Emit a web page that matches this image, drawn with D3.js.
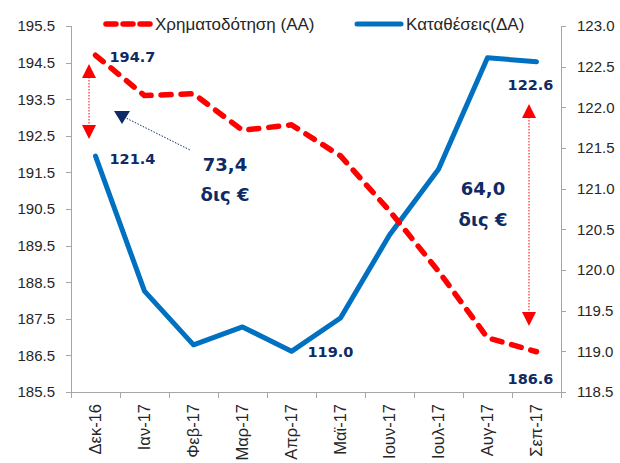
<!DOCTYPE html>
<html lang="el">
<head>
<meta charset="UTF-8">
<title>Χρηματοδότηση - Καταθέσεις</title>
<script src="https://cdn.jsdelivr.net/npm/d3@7"></script>
<style>
    body { margin: 0; background: #fff; }
    .axis path, .axis line { fill: none; stroke: #a6a6a6; shape-rendering: crispEdges; }
    .axis text { font-family: "Liberation Sans", sans-serif; font-size: 15px; fill: #262626; }
    .xaxis text { font-size: 16.5px; }
    .lbl { font-family: "DejaVu Sans", sans-serif; font-weight: bold; fill: #0f2a64; }
    .leg { font-family: "Liberation Sans", sans-serif; font-size: 17px; fill: #262626; }
</style>
</head>
<body>
<script>
    const width = 620
    const height = 463

    // data
    const months = ['Δεκ-16', 'Ιαν-17', 'Φεβ-17', 'Μαρ-17', 'Απρ-17', 'Μαϊ-17', 'Ιουν-17', 'Ιουλ-17', 'Αυγ-17', 'Σεπ-17']
    const financing = [194.7, 193.6, 193.65, 192.65, 192.8, 191.95, 190.45, 188.8, 186.98, 186.6]
    const deposits = [121.4, 119.74, 119.08, 119.3, 119.0, 119.41, 120.43, 121.24, 122.61, 122.56]
    const leftTicks = [185.5, 186.5, 187.5, 188.5, 189.5, 190.5, 191.5, 192.5, 193.5, 194.5, 195.5]
    const rightTicks = [118.5, 119.0, 119.5, 120.0, 120.5, 121.0, 121.5, 122.0, 122.5, 123.0]

    const red = '#ff0000'
    const blue = '#0070c0'
    const navy = '#0f2a64'

    const svg = d3.select('body').append('svg').attr('width', width).attr('height', height)

    const x = d3.scaleBand().domain(months).range([71, 561])
    const yL = d3.scaleLinear().domain([185.5, 195.5]).range([392, 26])
    const yR = d3.scaleLinear().domain([118.5, 123]).range([392, 26])
    const cx = (d) => x(d) + x.bandwidth() / 2

    // axes
    svg.append('g').attr('class', 'axis')
        .attr('transform', 'translate(71,0)')
        .call(d3.axisLeft(yL).tickValues(leftTicks).tickFormat(d3.format('.1f')).tickSizeOuter(0).tickSize(5).tickPadding(11))

    svg.append('g').attr('class', 'axis')
        .attr('transform', 'translate(561,0)')
        .call(d3.axisRight(yR).tickValues(rightTicks).tickFormat(d3.format('.1f')).tickSizeOuter(0).tickSize(5).tickPadding(11))

    const xAxis = svg.append('g').attr('class', 'axis xaxis')
        .attr('transform', 'translate(0,392)')
        .call(d3.axisBottom(x).tickSize(0).tickSizeOuter(0))
    xAxis.selectAll('.tick text')
        .attr('transform', 'rotate(-90)')
        .attr('text-anchor', 'end')
        .attr('x', -12)
        .attr('y', 0)
        .attr('dy', '0.35em')
    // tick marks between categories
    xAxis.selectAll('line.sep')
        .data(months.concat(['end']))
        .enter()
        .append('line')
        .attr('class', 'sep')
        .attr('x1', (d, i) => 71 + i * x.step())
        .attr('x2', (d, i) => 71 + i * x.step())
        .attr('y1', 0)
        .attr('y2', 6)

    // lines
    const lineL = d3.line().x((d, i) => cx(months[i])).y((d) => yL(d))
    const lineR = d3.line().x((d, i) => cx(months[i])).y((d) => yR(d))

    svg.append('path')
        .datum(deposits)
        .attr('d', lineR)
        .attr('fill', 'none')
        .attr('stroke', blue)
        .attr('stroke-width', 5)
        .attr('stroke-linejoin', 'round')
        .attr('stroke-linecap', 'round')

    svg.append('path')
        .datum(financing)
        .attr('d', lineL)
        .attr('fill', 'none')
        .attr('stroke', red)
        .attr('stroke-width', 5.5)
        .attr('stroke-dasharray', '10 10')
        .attr('stroke-linecap', 'round')
        .attr('stroke-linejoin', 'round')

    // data labels
    const n = months.length - 1
    const labels = [
        { t: financing[0].toFixed(1), x: cx(months[0]) + 14, y: yL(financing[0]) + 7, a: 'start' },
        { t: deposits[0].toFixed(1), x: cx(months[0]) + 14, y: yR(deposits[0]) + 8, a: 'start' },
        { t: deposits[4].toFixed(1), x: cx(months[4]) + 16, y: yR(deposits[4]) + 6, a: 'start' },
        { t: deposits[n].toFixed(1), x: cx(months[n]) - 6, y: yR(deposits[n]) + 28, a: 'middle' },
        { t: financing[n].toFixed(1), x: cx(months[n]) - 6, y: yL(financing[n]) + 32, a: 'middle' }
    ]
    svg.selectAll('text.dl')
        .data(labels)
        .enter()
        .append('text')
        .attr('class', 'lbl dl')
        .attr('x', (d) => d.x)
        .attr('y', (d) => d.y)
        .attr('text-anchor', (d) => d.a)
        .attr('font-size', 14.5)
        .text((d) => d.t)

    // red double arrows
    function arrow(xp, y1, y2) {
        svg.append('line')
            .attr('x1', xp).attr('x2', xp)
            .attr('y1', y1 + 10).attr('y2', y2 - 10)
            .attr('stroke', red)
            .attr('stroke-width', 1)
            .attr('stroke-dasharray', '1.5 1.5')
        svg.append('path')
            .attr('d', `M${xp},${y1} L${xp - 7},${y1 + 14} L${xp + 7},${y1 + 14} Z`)
            .attr('fill', red)
        svg.append('path')
            .attr('d', `M${xp},${y2} L${xp - 7},${y2 - 14} L${xp + 7},${y2 - 14} Z`)
            .attr('fill', red)
    }
    arrow(89, 64, 139)
    arrow(529, 104, 326)

    // navy pointer
    svg.append('line')
        .attr('x1', 124).attr('y1', 117)
        .attr('x2', 190).attr('y2', 150)
        .attr('stroke', navy)
        .attr('stroke-width', 1)
        .attr('stroke-dasharray', '1.5 1.5')
    svg.append('path')
        .attr('d', 'M114,111 L130,111 L122,124 Z')
        .attr('fill', navy)

    // big annotations
    const notes = [
        { t: '73,4', x: 225, y: 171 },
        { t: 'δις €', x: 225, y: 201 },
        { t: '64,0', x: 483, y: 195 },
        { t: 'δις €', x: 483, y: 226 }
    ]
    svg.selectAll('text.note')
        .data(notes)
        .enter()
        .append('text')
        .attr('class', 'lbl note')
        .attr('x', (d) => d.x)
        .attr('y', (d) => d.y)
        .attr('text-anchor', 'middle')
        .attr('font-size', 18)
        .text((d) => d.t)

    // legend
    const leg = svg.append('g')
    leg.append('line')
        .attr('x1', 106).attr('x2', 150).attr('y1', 24).attr('y2', 24)
        .attr('stroke', red).attr('stroke-width', 5.5)
        .attr('stroke-dasharray', '10 7').attr('stroke-linecap', 'round')
    leg.append('text').attr('class', 'leg').attr('x', 155).attr('y', 30).text('Χρηματοδότηση (ΑΑ)')
    leg.append('line')
        .attr('x1', 357).attr('x2', 401).attr('y1', 24).attr('y2', 24)
        .attr('stroke', blue).attr('stroke-width', 5).attr('stroke-linecap', 'round')
    leg.append('text').attr('class', 'leg').attr('x', 406).attr('y', 30).text('Καταθέσεις(ΔΑ)')
</script>
</body>
</html>
